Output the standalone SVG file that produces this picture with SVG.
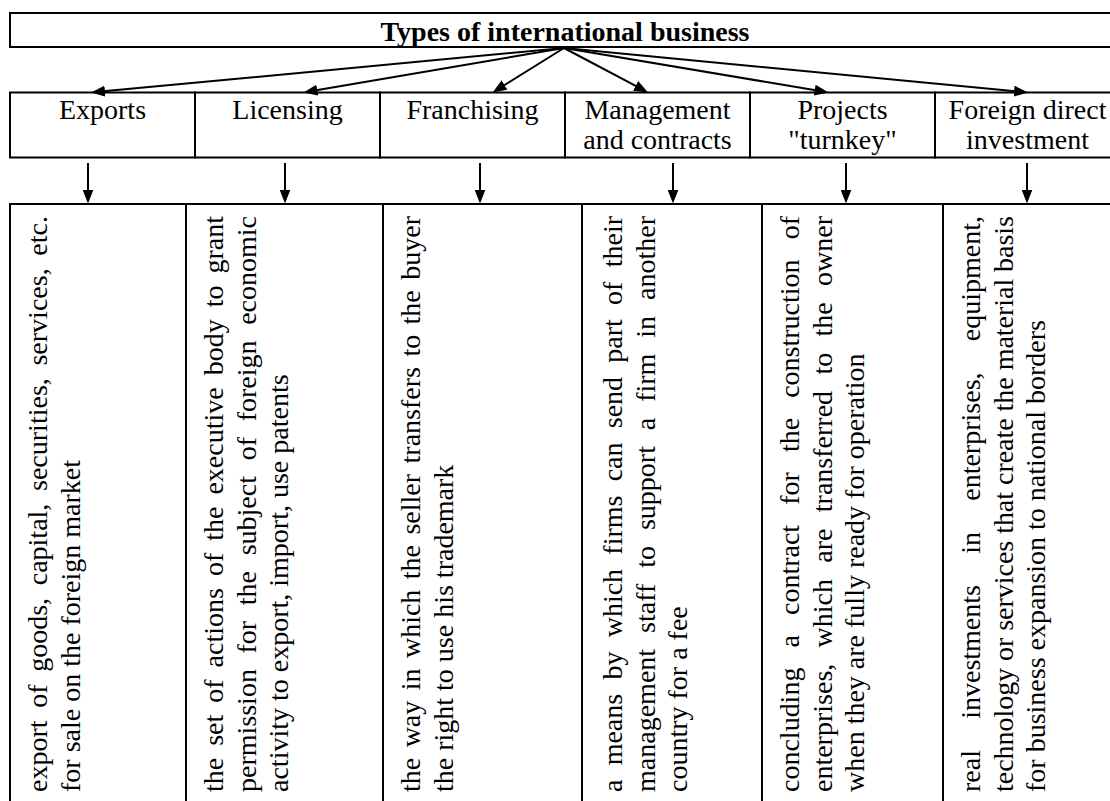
<svg xmlns="http://www.w3.org/2000/svg" width="1110" height="801" viewBox="0 0 1110 801">
<defs>
<style>
.box{fill:#fff;stroke:#000;stroke-width:2}
.ln{fill:none;stroke:#000;stroke-width:2}
.title{font-family:"Liberation Serif","Times New Roman",serif;font-size:28px;font-weight:bold;fill:#000}
.lbl{font-family:"Liberation Serif","Times New Roman",serif;font-size:28px;fill:#000;text-anchor:middle}
.v{font-family:"Liberation Serif","Times New Roman",serif;font-size:28px;fill:#000}
</style>
<marker id="ah" markerUnits="userSpaceOnUse" markerWidth="14" markerHeight="11" refX="7" refY="5.5" orient="auto">
<path d="M0,0 L14,5.5 L0,11 z" fill="#000"/>
</marker>
</defs>
<rect width="1110" height="801" fill="#fff"/>

<g id="title">
<rect class="box" x="10" y="13" width="1110" height="34"/>
<text class="title" x="565" y="40.5" text-anchor="middle">Types of international business</text>
</g>

<g id="type-exports">
<rect class="box" x="10" y="92.5" width="185" height="65"/>
<text class="lbl" x="102.5" y="118.5">Exports</text>
</g>
<g id="type-licensing">
<rect class="box" x="195" y="92.5" width="185" height="65"/>
<text class="lbl" x="287.5" y="118.5">Licensing</text>
</g>
<g id="type-franchising">
<rect class="box" x="380" y="92.5" width="185" height="65"/>
<text class="lbl" x="472.5" y="118.5">Franchising</text>
</g>
<g id="type-management">
<rect class="box" x="565" y="92.5" width="185" height="65"/>
<text class="lbl" x="657.5" y="118.5">Management</text>
<text class="lbl" x="657.5" y="148.5">and contracts</text>
</g>
<g id="type-turnkey">
<rect class="box" x="750" y="92.5" width="185" height="65"/>
<text class="lbl" x="842.5" y="118.5">Projects</text>
<text class="lbl" x="842.5" y="148.5">"turnkey"</text>
</g>
<g id="type-fdi">
<rect class="box" x="935" y="92.5" width="190" height="65"/>
<text class="lbl" x="1027.5" y="118.5">Foreign direct</text>
<text class="lbl" x="1027.5" y="148.5">investment</text>
</g>

<g id="desc-exports">
<rect class="box" x="10" y="204" width="176" height="610"/>
<text class="v" transform="translate(47,792) rotate(-90)" word-spacing="5.67" textLength="576" lengthAdjust="spacing">export of goods, capital, securities, services, etc.</text>
<text class="v" transform="translate(79.5,792) rotate(-90)">for sale on the foreign market</text>
</g>
<g id="desc-licensing">
<rect class="box" x="186" y="204" width="197" height="610"/>
<text class="v" transform="translate(223,792) rotate(-90)" word-spacing="4.99" textLength="576" lengthAdjust="spacing">the set of actions of the executive body to grant</text>
<text class="v" transform="translate(255.5,792) rotate(-90)" word-spacing="8.65" textLength="576" lengthAdjust="spacing">permission for the subject of foreign economic</text>
<text class="v" transform="translate(288,792) rotate(-90)">activity to export, import, use patents</text>
</g>
<g id="desc-franchising">
<rect class="box" x="383" y="204" width="199" height="610"/>
<text class="v" transform="translate(420,792) rotate(-90)" word-spacing="3.43" textLength="576" lengthAdjust="spacing">the way in which the seller transfers to the buyer</text>
<text class="v" transform="translate(452.5,792) rotate(-90)">the right to use his trademark</text>
</g>
<g id="desc-management">
<rect class="box" x="582" y="204" width="180" height="610"/>
<text class="v" transform="translate(622,792) rotate(-90)" word-spacing="7.23" textLength="576" lengthAdjust="spacing">a means by which firms can send part of their</text>
<text class="v" transform="translate(654.5,792) rotate(-90)" word-spacing="8.86" textLength="576" lengthAdjust="spacing">management staff to support a firm in another</text>
<text class="v" transform="translate(687,792) rotate(-90)">country for a fee</text>
</g>
<g id="desc-turnkey">
<rect class="box" x="762" y="204" width="181" height="610"/>
<text class="v" transform="translate(799,792) rotate(-90)" word-spacing="13.05" textLength="576" lengthAdjust="spacing">concluding a contract for the construction of</text>
<text class="v" transform="translate(831.5,792) rotate(-90)" word-spacing="9.3" textLength="576" lengthAdjust="spacing">enterprises, which are transferred to the owner</text>
<text class="v" transform="translate(864,792) rotate(-90)">when they are fully ready for operation</text>
</g>
<g id="desc-fdi">
<rect class="box" x="943" y="204" width="190" height="610"/>
<text class="v" transform="translate(980,792) rotate(-90)" word-spacing="24.2" textLength="576" lengthAdjust="spacing">real investments in enterprises, equipment,</text>
<text class="v" transform="translate(1012.5,792) rotate(-90)" textLength="576" lengthAdjust="spacing">technology or services that create the material basis</text>
<text class="v" transform="translate(1045,792) rotate(-90)">for business expansion to national borders</text>
</g>

<g id="connectors">
<line class="ln" x1="564" y1="48" x2="97.97" y2="91.83" marker-end="url(#ah)"/>
<line class="ln" x1="564" y1="48" x2="310.4" y2="91.3" marker-end="url(#ah)"/>
<line class="ln" x1="564" y1="48" x2="498.6" y2="88.73" marker-end="url(#ah)"/>
<line class="ln" x1="564" y1="48" x2="641.84" y2="89.17" marker-end="url(#ah)"/>
<line class="ln" x1="564" y1="48" x2="821.6" y2="91.31" marker-end="url(#ah)"/>
<line class="ln" x1="564" y1="48" x2="1021.03" y2="91.82" marker-end="url(#ah)"/>
<line class="ln" x1="88" y1="163" x2="88" y2="196.5" marker-end="url(#ah)"/>
<line class="ln" x1="285" y1="163" x2="285" y2="196.5" marker-end="url(#ah)"/>
<line class="ln" x1="480" y1="163" x2="480" y2="196.5" marker-end="url(#ah)"/>
<line class="ln" x1="673" y1="163" x2="673" y2="196.5" marker-end="url(#ah)"/>
<line class="ln" x1="846" y1="163" x2="846" y2="196.5" marker-end="url(#ah)"/>
<line class="ln" x1="1027" y1="163" x2="1027" y2="196.5" marker-end="url(#ah)"/>
</g>
</svg>
